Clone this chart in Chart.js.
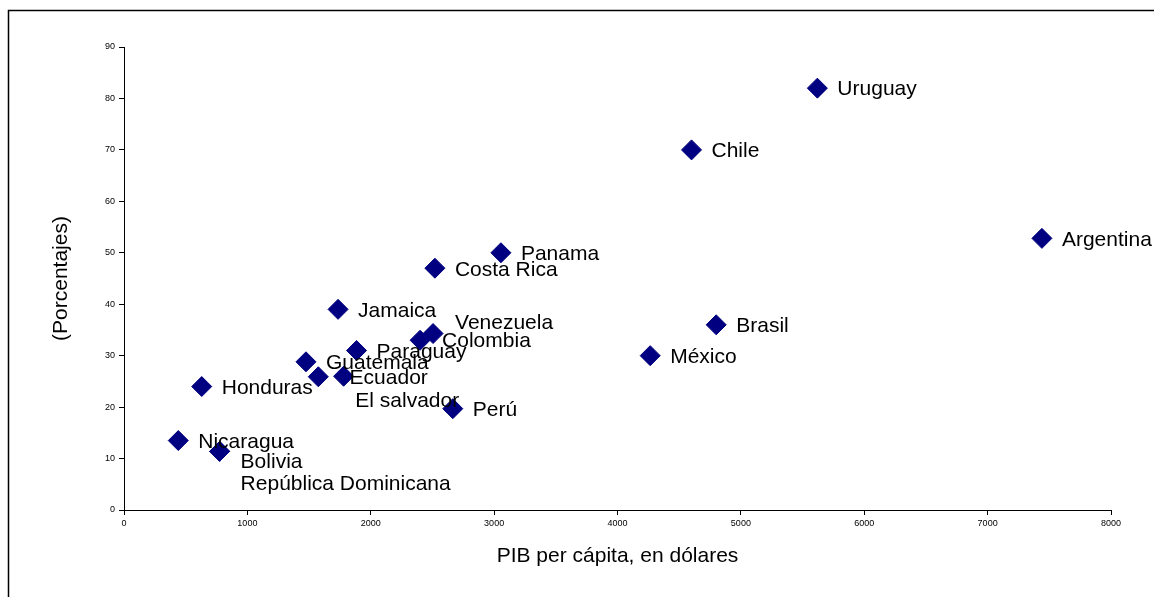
<!DOCTYPE html>
<html lang="es">
<head>
<meta charset="utf-8">
<title>PIB per cápita y porcentajes</title>
<script src="https://cdn.jsdelivr.net/npm/chart.js@4/dist/chart.umd.min.js"></script>
<style>
  html, body { margin: 0; padding: 0; background: #ffffff; }
  canvas { display: block; }
</style>
</head>
<body>
<canvas id="chart" width="1154" height="597"></canvas>
<script>
// Countries and their values
const countries = ['Uruguay', 'Chile', 'Argentina', 'Panama', 'Costa Rica', 'Brasil', 'México',
  'Jamaica', 'Venezuela', 'Colombia', 'Paraguay', 'Guatemala', 'Ecuador', 'El salvador',
  'Perú', 'Honduras', 'Nicaragua', 'Bolivia', 'República Dominicana'];
const gdpPerCapita = [5620, 4600, 7440, 3055, 2520, 4800, 4265,
  1735, 2505, 2400, 1885, 1475, 1780, 1575,
  2665, 630, 440, 775, 775];
const percentages = [82, 70, 52.8, 50, 47, 36, 30,
  39, 34.3, 33, 31, 28.8, 26, 25.9,
  19.7, 24, 13.5, 11.4, 11.4];

// Axis ranges
const xTicks = [0, 1000, 2000, 3000, 4000, 5000, 6000, 7000, 8000];
const yTicks = [0, 10, 20, 30, 40, 50, 60, 70, 80, 90];

const xTitle = 'PIB per cápita, en dólares';
const yTitle = '(Porcentajes)';

const FONT = '"Liberation Sans", Arial, sans-serif';

// Label placement relative to each marker (text start, vertical middle)
const defaultNudge = [20, 1.5];
const nudges = {
  'Venezuela': [22, -10],
  'Colombia': [22, 1],
  'Ecuador': [6, 2],
  'El salvador': [37, 24],
  'Bolivia': [21, 11],
  'República Dominicana': [21, 33]
};

const points = countries.map((name, i) => ({ x: gdpPerCapita[i], y: percentages[i], name }));

// White page with the outer frame line
const framePlugin = {
  id: 'frame',
  beforeDraw(chart) {
    const ctx = chart.ctx;
    ctx.save();
    ctx.fillStyle = '#ffffff';
    ctx.fillRect(0, 0, chart.width, chart.height);
    ctx.strokeStyle = '#000000';
    ctx.lineWidth = 1.5;
    ctx.strokeRect(8.5, 10.5, 3000, 3000);
    ctx.restore();
  }
};

// Country names beside the markers
const nameLabels = {
  id: 'nameLabels',
  afterDatasetsDraw(chart) {
    const ctx = chart.ctx;
    const meta = chart.getDatasetMeta(0);
    ctx.save();
    ctx.font = '21px ' + FONT;
    ctx.fillStyle = '#000000';
    ctx.textAlign = 'left';
    ctx.textBaseline = 'middle';
    meta.data.forEach((el, i) => {
      const name = countries[i];
      const [dx, dy] = nudges[name] || defaultNudge;
      ctx.fillText(name, el.x + dx, el.y + dy);
    });
    ctx.restore();
  }
};

new Chart(document.getElementById('chart'), {
  type: 'scatter',
  data: {
    datasets: [{
      data: points,
      pointStyle: 'rectRot',
      pointRadius: 10,
      pointHoverRadius: 10,
      backgroundColor: '#000080',
      borderColor: '#000080',
      borderWidth: 1
    }]
  },
  options: {
    responsive: false,
    animation: false,
    devicePixelRatio: 1,
    layout: { padding: { left: 0, top: 47, right: 43, bottom: 0 } },
    plugins: {
      legend: { display: false },
      tooltip: { enabled: false }
    },
    scales: {
      x: {
        type: 'linear',
        min: xTicks[0],
        max: xTicks[xTicks.length - 1],
        afterBuildTicks(scale) { scale.ticks = xTicks.map(v => ({ value: v })); },
        afterFit(scale) { scale.height = 87; },
        grid: { drawOnChartArea: false, drawTicks: true, tickLength: 5, color: '#000000' },
        border: { display: true, color: '#000000', width: 1 },
        ticks: {
          color: '#000000',
          font: { family: FONT, size: 9 },
          padding: 3,
          maxRotation: 0,
          autoSkip: false,
          callback: v => String(v)
        },
        title: {
          display: true,
          text: xTitle,
          color: '#000000',
          font: { family: FONT, size: 21 },
          padding: { top: 0, bottom: 28 }
        }
      },
      y: {
        type: 'linear',
        min: yTicks[0],
        max: yTicks[yTicks.length - 1],
        afterBuildTicks(scale) { scale.ticks = yTicks.map(v => ({ value: v })); },
        afterFit(scale) { scale.width = 124; },
        grid: { drawOnChartArea: false, drawTicks: true, tickLength: 5, color: '#000000' },
        border: { display: true, color: '#000000', width: 1 },
        ticks: {
          color: '#000000',
          font: { family: FONT, size: 9 },
          padding: 4,
          autoSkip: false,
          callback: v => String(v)
        },
        title: {
          display: true,
          text: yTitle,
          color: '#000000',
          font: { family: FONT, size: 21 },
          padding: { top: 49, bottom: 0 }
        }
      }
    }
  },
  plugins: [framePlugin, nameLabels]
});
</script>
</body>
</html>
